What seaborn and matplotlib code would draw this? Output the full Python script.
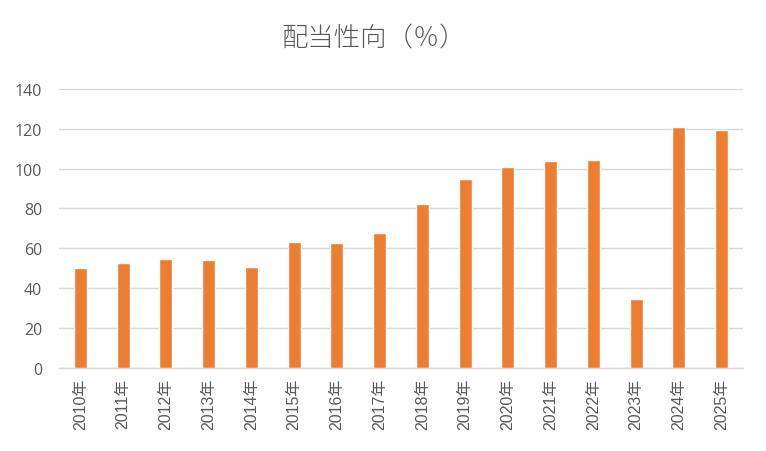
import matplotlib
matplotlib.use("Agg")
import matplotlib.pyplot as plt
import seaborn as sns
import pandas as pd

years = ["2010年", "2011年", "2012年", "2013年", "2014年", "2015年", "2016年", "2017年",
         "2018年", "2019年", "2020年", "2021年", "2022年", "2023年", "2024年", "2025年"]
payout = [50.0, 52.5, 54.5, 54.0, 50.5, 63.0, 62.5, 67.5,
          82.0, 95.0, 101.0, 104.0, 104.5, 34.5, 121.0, 119.5]
yticks = [0, 20, 40, 60, 80, 100, 120, 140]
title = "配当性向（％）"

sns.set_theme(style="white")
plt.rcParams['font.family'] = ['Noto Sans CJK JP', 'DejaVu Sans']

df = pd.DataFrame({"year": years, "payout": payout})

fig = plt.figure(figsize=(7.66, 4.52), dpi=100)
ax = fig.add_axes([0.077, 0.184, 0.893, 0.617])
sns.barplot(data=df, x="year", y="payout", color="#ED7D31", width=0.30,
            saturation=1, ax=ax, zorder=3)
ax.set_ylim(0, 140)
ax.set_yticks(yticks)
ax.set_xlim(-0.5, len(years) - 0.5)
ax.yaxis.grid(True, color="#d9d9d9", linewidth=1.0, zorder=0)
ax.xaxis.grid(False)
for s in ["top", "right", "left"]:
    ax.spines[s].set_visible(False)
ax.spines["bottom"].set_color("#d9d9d9")
ax.spines["bottom"].set_linewidth(1.0)
ax.set_xlabel("")
ax.set_ylabel("")
ax.tick_params(axis="both", length=0, colors="#595959")
ax.tick_params(axis="x", pad=7)
ax.tick_params(axis="y", pad=12)
for lab in ax.get_yticklabels():
    lab.set_fontfamily(['Open Sans', 'DejaVu Sans'])
    lab.set_fontsize(11.5)
for lab in ax.get_xticklabels():
    lab.set_fontfamily(['Liberation Sans', 'Noto Sans CJK JP'])
    lab.set_fontsize(11.5)
    lab.set_rotation(90)
fig.text(0.488, 0.916, title, ha="center", va="center", fontsize=19,
         color="#595959", fontweight="light")
fig.savefig("out.png", dpi=100)
